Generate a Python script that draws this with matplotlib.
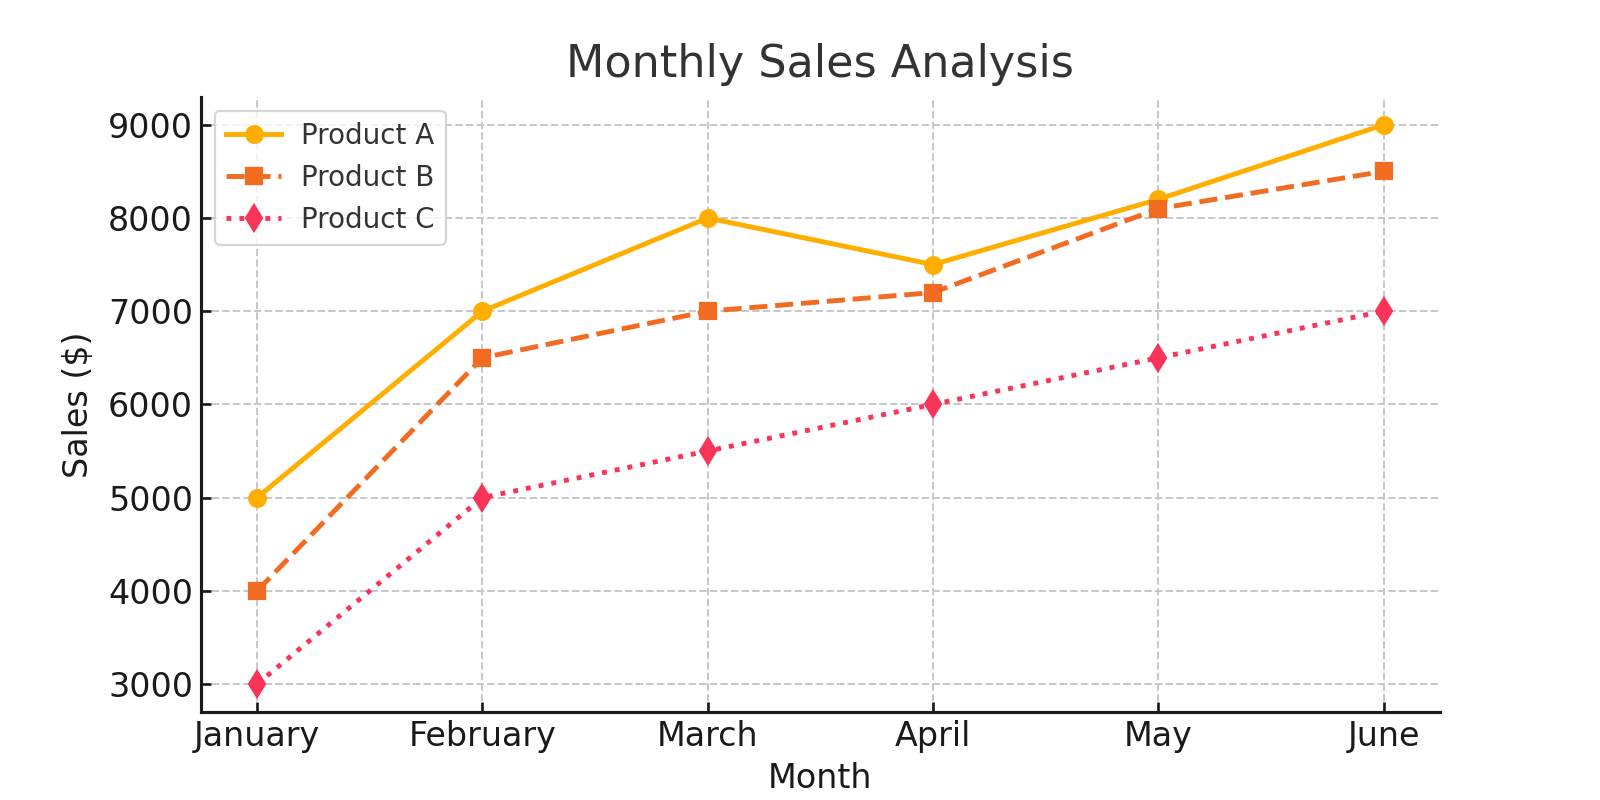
import matplotlib
matplotlib.use("Agg")
import matplotlib.pyplot as plt

months = ["January", "February", "March", "April", "May", "June"]
product_a = [5000, 7000, 8000, 7500, 8200, 9000]
product_b = [4000, 6500, 7000, 7200, 8100, 8500]
product_c = [3000, 5000, 5500, 6000, 6500, 7000]

fig = plt.figure(figsize=(10, 5), dpi=160)
ax = fig.add_axes([0.1255, 0.11, 0.7745, 0.769])

ax.plot(months, product_a, color="#FFAE00", linestyle="-", marker="o",
        linewidth=2.2, markersize=7.5, label="Product A")
ax.plot(months, product_b, color="#F26B21", linestyle="--", marker="s",
        linewidth=2.2, markersize=7, label="Product B")
ax.plot(months, product_c, color="#FA3358", linestyle=":", marker="d",
        linewidth=2.2, markersize=8, label="Product C")

ax.set_title("Monthly Sales Analysis", fontsize=20, color="#333333", pad=9)
ax.set_xlabel("Month", fontsize=15, color="#1a1a1a")
ax.set_ylabel("Sales ($)", fontsize=15, color="#1a1a1a", labelpad=6)
ax.tick_params(labelsize=15, colors="#1a1a1a", width=1.2, length=4.5,
               direction="in")
ax.grid(True, linestyle="--", color="#c8c8c8", linewidth=0.9)
ax.set_axisbelow(True)

for side in ["top", "right"]:
    ax.spines[side].set_visible(False)
for side in ["left", "bottom"]:
    ax.spines[side].set_linewidth(1.4)
    ax.spines[side].set_color("#1a1a1a")

leg = ax.legend(loc="upper left", fontsize=12.5, frameon=True, handlelength=2,
                handletextpad=0.7)
for t in leg.get_texts():
    t.set_color("#333333")
leg.get_frame().set_edgecolor("#cccccc")

fig.savefig("out.png", dpi=160)
